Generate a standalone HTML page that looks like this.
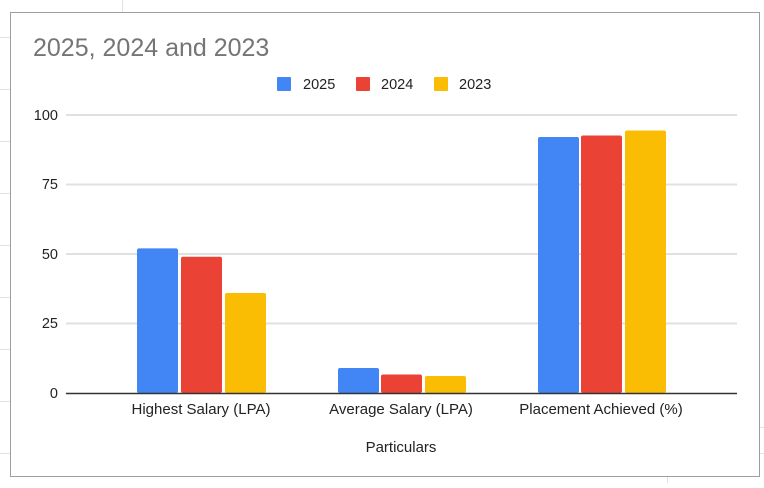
<!DOCTYPE html>
<html><head><style>
body{margin:0;background:#fff;}
svg text{font-family:"Liberation Sans",Arial,sans-serif;}
</style></head><body>
<svg width="764" height="483" xmlns="http://www.w3.org/2000/svg">
<g stroke="#e2e2e2" stroke-width="1">
<line x1="122.5" y1="0" x2="122.5" y2="12"/>
<line x1="667.5" y1="477" x2="667.5" y2="483"/>
<line x1="0" y1="37.5" x2="10" y2="37.5"/>
<line x1="0" y1="89.5" x2="10" y2="89.5"/>
<line x1="0" y1="141.5" x2="10" y2="141.5"/>
<line x1="0" y1="193.5" x2="10" y2="193.5"/>
<line x1="0" y1="245.5" x2="10" y2="245.5"/>
<line x1="0" y1="297.5" x2="10" y2="297.5"/>
<line x1="0" y1="349.5" x2="10" y2="349.5"/>
<line x1="0" y1="401.5" x2="10" y2="401.5"/>
<line x1="0" y1="453.5" x2="10" y2="453.5"/>
<line x1="760" y1="427.5" x2="764" y2="427.5"/>
<line x1="760" y1="453.5" x2="764" y2="453.5"/>
</g>
<rect x="10.5" y="12.5" width="749" height="464" fill="#fff" stroke="#9e9e9e"/>
<text x="33" y="56" font-size="25" fill="#757575">2025, 2024 and 2023</text>
<rect x="277" y="77" width="14" height="14" fill="#4285f4" rx="1"/>
<text x="303" y="89" font-size="14.5" fill="#222">2025</text>
<rect x="356" y="77" width="14" height="14" fill="#ea4335" rx="1"/>
<text x="381" y="89" font-size="14.5" fill="#222">2024</text>
<rect x="434" y="77" width="14" height="14" fill="#fbbc04" rx="1"/>
<text x="459" y="89" font-size="14.5" fill="#222">2023</text>
<g stroke="#e0e0e0" stroke-width="2">
<line x1="66" y1="115" x2="737" y2="115"/>
<line x1="66" y1="184.5" x2="737" y2="184.5"/>
<line x1="66" y1="254" x2="737" y2="254"/>
<line x1="66" y1="323.5" x2="737" y2="323.5"/>
</g>
<g font-size="14.5" fill="#222" text-anchor="end">
<text x="58" y="120">100</text>
<text x="58" y="189">75</text>
<text x="58" y="259">50</text>
<text x="58" y="328">25</text>
<text x="58" y="398">0</text>
</g>
<g>
<rect x="137" y="248.4" width="41" height="144.6" fill="#4285f4" rx="2"/>
<rect x="181" y="256.8" width="41" height="136.2" fill="#ea4335" rx="2"/>
<rect x="225" y="293" width="41" height="100" fill="#fbbc04" rx="2"/>
<rect x="338" y="368" width="41" height="25" fill="#4285f4" rx="2"/>
<rect x="381" y="374.5" width="41" height="18.5" fill="#ea4335" rx="2"/>
<rect x="425" y="376" width="41" height="17" fill="#fbbc04" rx="2"/>
<rect x="538" y="137" width="41" height="256" fill="#4285f4" rx="2"/>
<rect x="581" y="135.5" width="41" height="257.5" fill="#ea4335" rx="2"/>
<rect x="625" y="130.5" width="41" height="262.5" fill="#fbbc04" rx="2"/>
</g>
<line x1="66" y1="393.5" x2="737" y2="393.5" stroke="#333" stroke-width="1.5"/>
<g font-size="15" fill="#222" text-anchor="middle">
<text x="201" y="414">Highest Salary (LPA)</text>
<text x="401" y="414">Average Salary (LPA)</text>
<text x="601" y="414">Placement Achieved (%)</text>
<text x="401" y="452">Particulars</text>
</g>
</svg>
</body></html>
